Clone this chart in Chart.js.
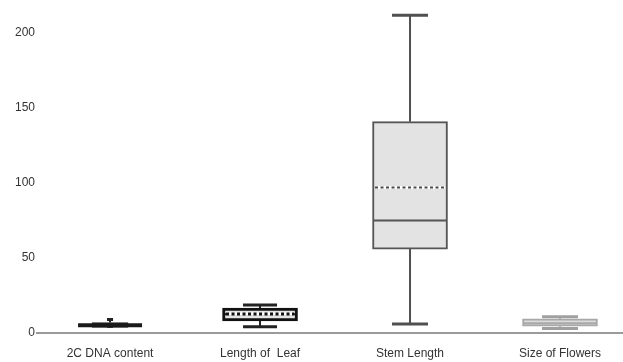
<!DOCTYPE html>
<html>
<head>
<meta charset="utf-8">
<script src="https://cdn.jsdelivr.net/npm/chart.js@4.4.1/dist/chart.umd.min.js"></script>
<style>
html,body{margin:0;padding:0;background:#fff;}
#wrap{width:623px;height:362px;position:relative;}
</style>
</head>
<body>
<div id="wrap"><canvas id="c" width="623" height="362"></canvas></div>
<script>
// ---- data ----
const categories = ['2C DNA content', 'Length of  Leaf', 'Stem Length', 'Size of Flowers'];
const whiskerMin = [4.5, 4.2, 6, 3];
const q1 = [3.8, 8, 56, 4.5];
const median = [5.2, 12.5, 75, 6.5];
const mean = [5.2, 12.7, 97, 7];
const q3 = [7, 16.7, 141, 9.5];
const whiskerMax = [9, 18.7, 212, 10.8];
const yTicks = [0, 50, 100, 150, 200];

// ---- styles (per category) ----
const boxFill = ['#2b2b2b', '#e4e4e4', '#e3e3e3', '#dcdcdc'];
const boxEdge = ['#222222', '#111111', '#555555', '#a8a8a8'];
const boxEdgeW = [3, 3, 2, 2];
const lineCol = ['#222222', '#222222', '#505050', '#a0a0a0'];
const capHalf = [3, 17, 18, 18];
const medHalf = [32, 36, 37, 37];
const showMean = [false, true, true, false];

const boxes = categories.map((c, i) => ({x: i, y: [q1[i], q3[i]]}));

const boxPlotPlugin = {
  id: 'boxWhiskers',
  beforeDatasetsDraw(chart) {
    const {ctx, scales: {x, y}} = chart;
    ctx.save();
    categories.forEach((c, i) => {
      const cx = x.getPixelForValue(i);
      ctx.strokeStyle = lineCol[i];
      ctx.lineWidth = 2;
      ctx.beginPath();
      ctx.moveTo(cx, y.getPixelForValue(whiskerMax[i]));
      ctx.lineTo(cx, y.getPixelForValue(q3[i]));
      ctx.moveTo(cx, y.getPixelForValue(q1[i]));
      ctx.lineTo(cx, y.getPixelForValue(whiskerMin[i]));
      ctx.stroke();
      ctx.lineWidth = 3;
      ctx.beginPath();
      const yMax = y.getPixelForValue(whiskerMax[i]);
      const yMin = y.getPixelForValue(whiskerMin[i]);
      ctx.moveTo(cx - capHalf[i], yMax); ctx.lineTo(cx + capHalf[i], yMax);
      ctx.moveTo(cx - capHalf[i], yMin); ctx.lineTo(cx + capHalf[i], yMin);
      ctx.stroke();
    });
    ctx.restore();
  },
  afterDatasetsDraw(chart) {
    const {ctx, scales: {x, y}} = chart;
    ctx.save();
    categories.forEach((c, i) => {
      const cx = x.getPixelForValue(i);
      const ym = y.getPixelForValue(median[i]);
      ctx.strokeStyle = i === 0 ? '#1a1a1a' : boxEdge[i];
      ctx.lineWidth = i === 0 ? 4 : 2;
      ctx.beginPath();
      ctx.moveTo(cx - medHalf[i], ym); ctx.lineTo(cx + medHalf[i], ym);
      ctx.stroke();
      if (showMean[i]) {
        const ya = y.getPixelForValue(mean[i]);
        const hw = medHalf[i] - 2;
        ctx.strokeStyle = '#ffffff';
        ctx.lineWidth = 3;
        ctx.setLineDash([]);
        ctx.beginPath(); ctx.moveTo(cx - hw, ya); ctx.lineTo(cx + hw, ya); ctx.stroke();
        ctx.strokeStyle = i === 1 ? '#111111' : '#4a4a4a';
        ctx.lineWidth = i === 1 ? 3 : 2;
        ctx.setLineDash([3, 2.5]);
        ctx.beginPath(); ctx.moveTo(cx - hw, ya); ctx.lineTo(cx + hw, ya); ctx.stroke();
        ctx.setLineDash([]);
      }
    });
    ctx.restore();
  }
};

new Chart(document.getElementById('c'), {
  type: 'bar',
  data: {
    datasets: [
      {
        data: boxes.slice(0, 1),
        backgroundColor: boxFill[0], borderColor: boxEdge[0], borderWidth: boxEdgeW[0],
        borderSkipped: false, barThickness: 36
      },
      {
        data: boxes.slice(1),
        backgroundColor: boxFill.slice(1), borderColor: boxEdge.slice(1), borderWidth: boxEdgeW.slice(1),
        borderSkipped: false, barThickness: 75
      }
    ]
  },
  options: {
    responsive: false,
    animation: false,
    layout: {padding: {top: -2.7, right: 0, bottom: -11.4, left: 0}},
    plugins: {legend: {display: false}, tooltip: {enabled: false}},
    datasets: {bar: {grouped: false}},
    scales: {
      x: {
        type: 'linear',
        offset: false,
        min: -0.487, max: 3.42,
        afterBuildTicks: s => { s.ticks = categories.map((c, i) => ({value: i})); },
        grid: {display: false, drawTicks: false},
        border: {display: true, color: '#9a9a9a', width: 2},
        ticks: {
          autoSkip: false, maxRotation: 0, padding: 13,
          color: '#333', font: {family: 'Liberation Sans', size: 12},
          callback: v => categories[v]
        }
      },
      y: {
        min: 0, max: 216,
        afterBuildTicks: s => { s.ticks = yTicks.map(v => ({value: v})); },
        afterFit: s => { s.width = 37; },
        grid: {display: false, drawTicks: false},
        border: {display: false},
        ticks: {padding: 2, color: '#333', font: {family: 'Liberation Sans', size: 12}}
      }
    }
  },
  plugins: [boxPlotPlugin]
});
</script>
</body>
</html>
